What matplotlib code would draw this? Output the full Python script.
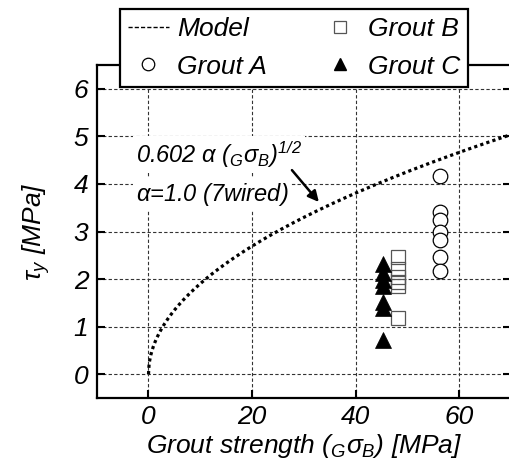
import matplotlib
matplotlib.use("Agg")
import matplotlib.pyplot as plt
import numpy as np
from matplotlib.lines import Line2D

plt.rcParams["font.family"] = ["Liberation Sans", "DejaVu Sans"]
plt.rcParams["font.style"] = "italic"
plt.rcParams["mathtext.fontset"] = "custom"
plt.rcParams["mathtext.it"] = "Liberation Sans:italic"
plt.rcParams["mathtext.rm"] = "Liberation Sans:italic"
plt.rcParams["mathtext.default"] = "it"

# model: tau_y = 0.602 * alpha * sqrt(G_sigma_B)
coef = 0.602
alpha = 1.0
model_x = np.linspace(0, 70, 600)

# test data
grout_a_x = [56.3] * 7
grout_a_y = [4.17, 3.41, 3.25, 2.98, 2.82, 2.46, 2.17]
grout_b_x = [48.1] * 6
grout_b_y = [2.46, 2.21, 2.04, 1.93, 1.85, 1.18]
grout_c_x = [45.3] * 7
grout_c_y = [2.31, 2.12, 1.98, 1.85, 1.52, 1.40, 0.71]

xticks = [0, 20, 40, 60]
yticks = [0, 1, 2, 3, 4, 5, 6]

fs = 19
fs_note = 17

fig = plt.figure(figsize=(5.09, 4.70), dpi=100)
ax = fig.add_axes([96.7 / 509, 72 / 470, 414.3 / 509, 333 / 470])

model_y = coef * alpha * np.sqrt(model_x)
ax.plot(model_x, model_y, color="k", lw=2.3, ls=(0, (1, 1)), zorder=3)

ax.plot(grout_a_x, grout_a_y, ls="none", marker="o", ms=10.5,
        mfc="white", mec="k", mew=0.9, zorder=4)
ax.plot(grout_b_x, grout_b_y, ls="none", marker="s", ms=10.5,
        mfc="none", mec="#555555", mew=0.9, zorder=4)
ax.plot(grout_c_x, grout_c_y, ls="none", marker="^", ms=11,
        mfc="k", mec="k", mew=0.5, zorder=5)

ax.set_xlim(-10, 70)
ax.set_ylim(-0.5, 6.5)
ax.set_xticks(xticks)
ax.set_yticks(yticks)
ax.grid(True, color="#333333", lw=0.8, ls=(0, (3, 2)))
ax.set_axisbelow(True)

ax.tick_params(axis="both", direction="in", length=6, width=1.5,
               labelsize=fs, top=True, right=True)
ax.tick_params(axis="y", pad=6)
ax.tick_params(axis="x", pad=5)
for sp in ax.spines.values():
    sp.set_linewidth(1.6)

ax.set_xlabel(r"Grout strength (${}_G\sigma_B$) [MPa]", fontsize=fs, labelpad=2)
ax.set_ylabel(r"$\tau_y$ [MPa]", fontsize=fs, labelpad=16)

box = dict(facecolor="white", edgecolor="none", pad=2)
ax.text(-2.4, 4.62, r"0.602 $\alpha$ (${}_G\sigma_B$)$^{1/2}$", fontsize=fs_note,
        va="center", ha="left", bbox=box, zorder=6)
ax.text(-2.4, 3.78, r"$\alpha$=1.0 (7wired)", fontsize=fs_note,
        va="center", ha="left", bbox=box, zorder=6)
ax.annotate("", xy=(32.9, 3.62), xytext=(27.7, 4.29),
            arrowprops=dict(arrowstyle="-|>", color="k", lw=1.8,
                            mutation_scale=16, shrinkA=0, shrinkB=0),
            zorder=7)

handles = [
    Line2D([], [], color="k", lw=1.0, ls=(0, (3, 1.5))),
    Line2D([], [], ls="none", marker="o", ms=9, mfc="white", mec="k", mew=0.9),
    Line2D([], [], ls="none", marker="s", ms=9, mfc="white", mec="#555555", mew=0.9),
    Line2D([], [], ls="none", marker="^", ms=9, mfc="k", mec="k"),
]
labels = ["Model", "Grout A", "Grout B", "Grout C"]
leg = ax.legend(handles, labels, ncol=2, loc="lower left",
                bbox_to_anchor=((120 - 96.7) / 414.3, (398 - 86.5) / 333),
                fontsize=fs, frameon=True, fancybox=False, framealpha=1,
                edgecolor="k", borderpad=0.3, labelspacing=0.5,
                handlelength=1.55, handletextpad=0.3, columnspacing=2.0,
                borderaxespad=0)
leg.get_frame().set_linewidth(1.6)
leg.set_zorder(10)

fig.savefig("out.png", dpi=100)
